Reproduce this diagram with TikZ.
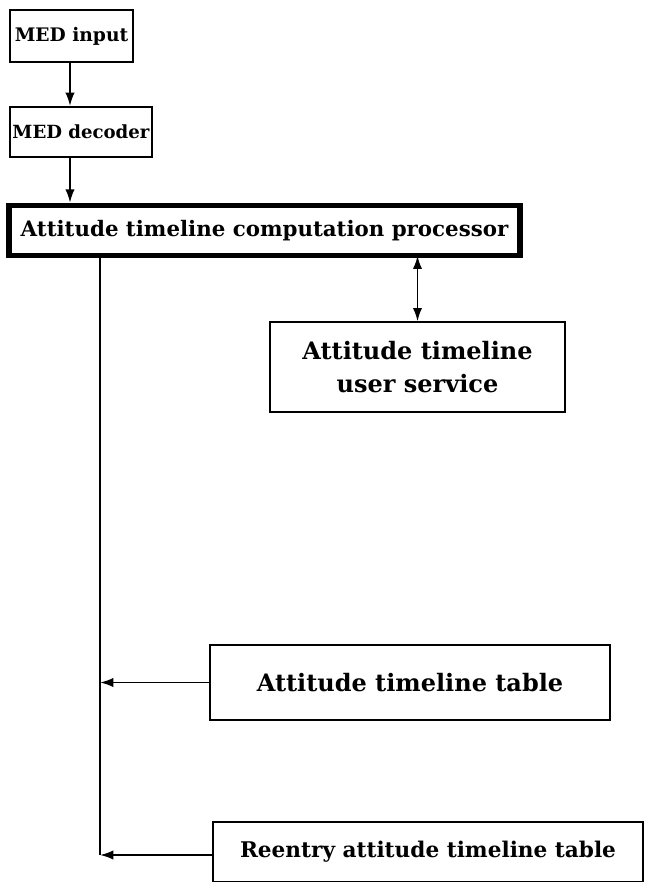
\documentclass[tikz,border=0pt]{standalone}
\usepackage{fontspec}
\setmainfont{DejaVu Serif}
\usetikzlibrary{arrows.meta}
\newcommand{\fsz}[1]{\fontsize{#1}{1.2\dimexpr#1pt\relax}\selectfont}
\begin{document}
\begin{tikzpicture}[x=0.75pt,y=0.75pt,yscale=-1,>={Latex[length=10pt,width=7pt]},
  box/.style={draw,line width=1.5pt,inner sep=0pt,font=\bfseries},
  arr/.style={line width=1.4pt,->}]
\useasboundingbox (0,0) rectangle (645,882);
% Boxes
\node[box,minimum width=92pt,minimum height=39pt,font=\bfseries\fsz{14}] (input) at (71.5,36) {MED input};
\node[box,minimum width=107pt,minimum height=37.5pt,font=\bfseries\fsz{13.6}] (decoder) at (81,132) {MED decoder};
\node[box,line width=4.2pt,minimum width=383pt,minimum height=37.5pt,font=\bfseries\fsz{16}] (proc) at (264.5,230.5) {Attitude timeline computation processor};
\node[box,align=center,minimum width=221pt,minimum height=67pt,font=\bfseries\fsz{18}] (user) at (417.5,367) {Attitude timeline\\[3pt] user service};
\node[box,minimum width=300pt,minimum height=56pt,font=\bfseries\fsz{18}] (table) at (410,682.5) {Attitude timeline table};
\node[box,minimum width=323pt,minimum height=45pt,font=\bfseries\fsz{16.2}] (reentry) at (428,852) {Reentry attitude timeline table};
% Connectors
\draw[arr] (70,0 |- input.south) -- (70,0 |- decoder.north);
\draw[arr] (70,0 |- decoder.south) -- (70,0 |- proc.north);
\draw[line width=1.4pt,<->] ([yshift=-2pt]proc.south -| user.north) -- (user.north);
\coordinate (bus) at (100,855);
\draw[line width=1.4pt] (bus |- proc.south) -- (bus);
\draw[arr] (table.west) -- (table.west -| bus);
\draw[arr] (reentry.west |- bus) -- (bus);
\end{tikzpicture}
\end{document}
